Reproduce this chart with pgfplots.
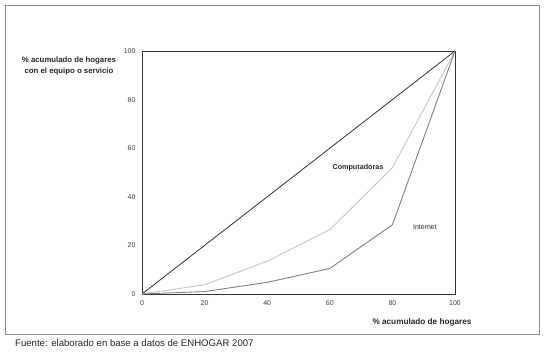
\documentclass[border=0pt]{standalone}
\usepackage{fontspec}
\setmainfont{Liberation Sans}
\usepackage{pgfplots}
\pgfplotsset{compat=1.18}
\begin{document}
\begin{tikzpicture}[x=1pt,y=1pt]
\begin{axis}[
  name=ax, at={(0,0)}, anchor=south west,
  scale only axis, width=313pt, height=243pt,
  xmin=0, xmax=100, ymin=0, ymax=100,
  xtick={0,20,...,100}, ytick={0,20,...,100},
  major tick length=0pt,
  tick label style={font=\fontsize{7}{8}\selectfont, text=black!75},
  /pgf/number format/assume math mode=true,
  xticklabel style={yshift=-3pt},
  yticklabel style={xshift=-3pt},
  axis line style={black!80, line width=0.8pt},
  clip=false,
]
\addplot[black!80, line width=0.8pt] coordinates {(0,0) (100,100)};
\addplot[black!22, line width=0.9pt] coordinates {(0,0) (20,3.8) (40,13.5) (60,26.5) (80,52) (100,100)};
\addplot[black!50, line width=0.9pt] coordinates {(0,0) (20,1) (40,4.8) (60,10.5) (80,28.5) (100,100)};
\node[font=\fontsize{7.2}{8}\selectfont\bfseries, text=black!85] at (axis cs:69,51.9) {Computadoras};
\node[font=\fontsize{7}{8}\selectfont, text=black!85] at (axis cs:90.4,27.6) {Internet};
\end{axis}
\path (-142,-60) rectangle (406,294);
\draw[black!45, line width=0.6pt] (-137,-40) rectangle (397,289);
\node[font=\fontsize{7.8}{11}\selectfont\bfseries, text=black!85, align=center] at (-73,228) {\% acumulado de hogares\\con el equipo o servicio};
\node[font=\fontsize{8.2}{9}\selectfont\bfseries, text=black!85] at (280,-28) {\% acumulado de hogares};
\node[font=\fontsize{9.6}{10}\selectfont, anchor=west, inner sep=0pt, text=black!85] at (-127,-49) {Fuente: elaborado en base a datos de ENHOGAR 2007};
\end{tikzpicture}
\end{document}
